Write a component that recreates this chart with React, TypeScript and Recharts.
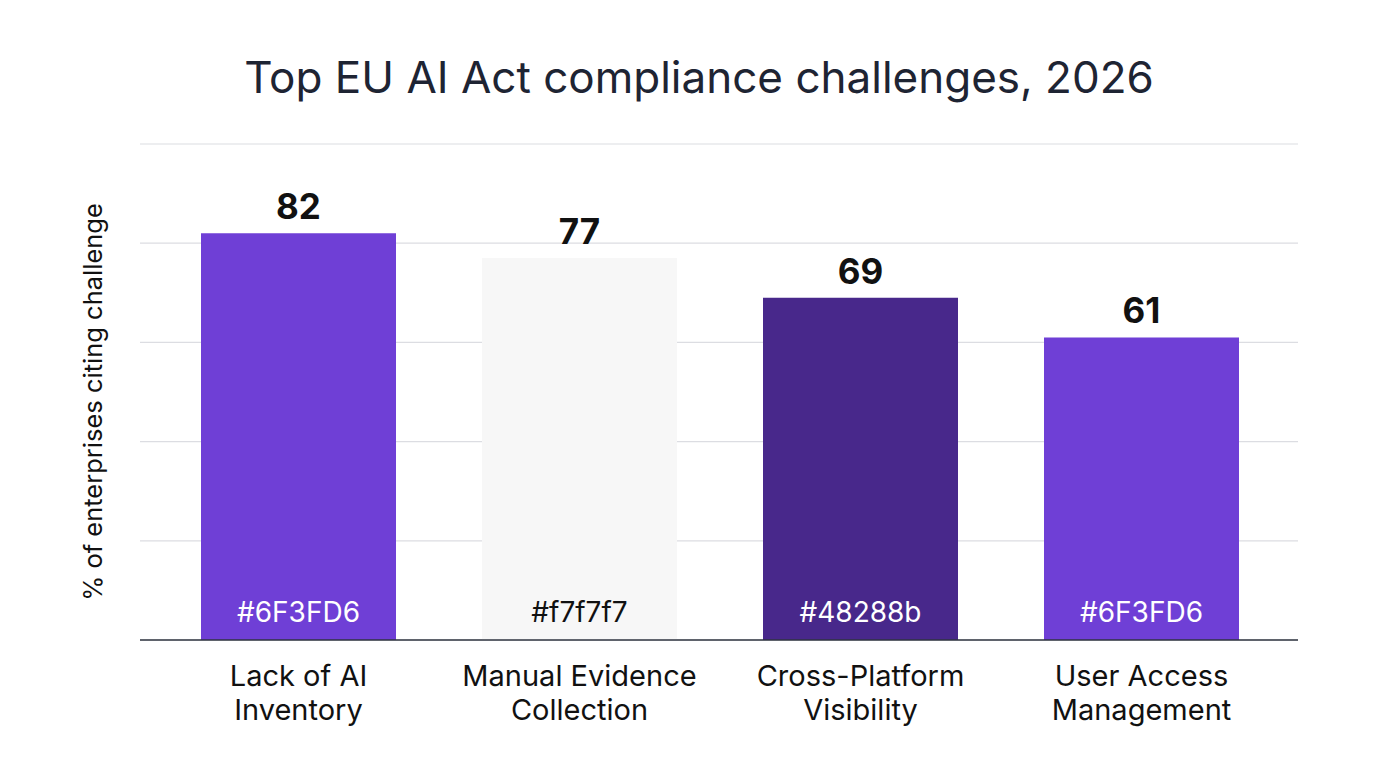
import { BarChart, Bar, XAxis, YAxis, CartesianGrid, Cell, LabelList } from 'recharts'

const categories = ['Lack of AI\nInventory', 'Manual Evidence\nCollection', 'Cross-Platform\nVisibility', 'User Access\nManagement']
const shares = [82, 77, 69, 61]
const barTags = ['#6F3FD6', '#f7f7f7', '#48288b', '#6F3FD6']
const yTicks = [0, 20, 40, 60, 80, 100]

const barFills = ['#6F3FD6', '#f7f7f7', '#48288b', '#6F3FD6']
const tagColors = ['#ffffff', '#111111', '#ffffff', '#ffffff']

const data = categories.map((name, i) => ({ name, share: shares[i], tag: barTags[i] }))

const FONT = 'Inter, "Noto Sans", sans-serif'

function CategoryTick({ x, y, payload }: any) {
  const lines = String(payload.value).split('\n')
  return (
    <text x={x} y={y} textAnchor="middle" fill="#111111" fontFamily={FONT} fontSize={29}>
      {lines.map((line, i) => (
        <tspan key={i} x={x} dy={i === 0 ? 38 : 34}>{line}</tspan>
      ))}
    </text>
  )
}

function TagLabel({ x, y, width, height, index }: any) {
  return (
    <text
      x={x + width / 2}
      y={y + height - 18}
      textAnchor="middle"
      fill={tagColors[index]}
      fontFamily={FONT}
      fontSize={28}
    >
      {barTags[index]}
    </text>
  )
}

// y ticks are only used to place the grid lines, nothing is drawn for them
const NoTick = () => <g />

export default function App() {
  return (
    <div style={{ position: 'fixed', left: 0, top: 0, width: 1376, height: 768, background: '#ffffff' }}>
      <div
        style={{
          position: 'absolute',
          left: 0,
          width: 1398,
          top: 50,
          textAlign: 'center',
          fontFamily: FONT,
          fontSize: 44,
          color: '#1e2433',
          lineHeight: '54px',
        }}
      >
        Top EU AI Act compliance challenges, 2026
      </div>
      <BarChart
        width={1376}
        height={768}
        data={data}
        margin={{ top: 144, right: 78, bottom: 98, left: 80 }}
        style={{ position: 'absolute', left: 0, top: 0 }}
      >
        <CartesianGrid vertical={false} stroke="#dcdde2" strokeWidth={1.2} />
        <YAxis
          width={60}
          domain={[0, 100]}
          ticks={yTicks}
          tick={NoTick}
          axisLine={false}
          tickLine={false}
          label={{
            value: '% of enterprises citing challenge',
            angle: -90,
            position: 'center',
            dx: -17,
            dy: 10,
            fill: '#111111',
            fontSize: 25.5,
            fontFamily: FONT,
          }}
        />
        <XAxis
          dataKey="name"
          height={30}
          interval={0}
          padding={{ left: 18, right: 16 }}
          axisLine={{ stroke: '#2f3440', strokeWidth: 1.6 }}
          tickLine={false}
          tick={<CategoryTick />}
        />
        <Bar dataKey="share" barSize={195} isAnimationActive={false}>
          {data.map((d, i) => (
            <Cell key={d.name} fill={barFills[i]} />
          ))}
          <LabelList
            dataKey="share"
            position="top"
            offset={14}
            fill="#111111"
            fontSize={35}
            fontWeight={700}
            fontFamily={FONT}
          />
          <LabelList dataKey="tag" content={<TagLabel />} />
        </Bar>
      </BarChart>
    </div>
  )
}
